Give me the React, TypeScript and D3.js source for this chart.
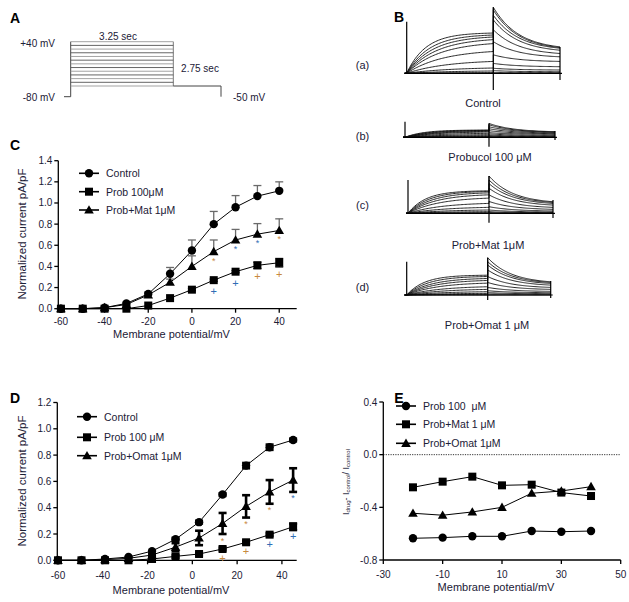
import React from 'react';
import * as d3 from 'd3';

const FONT = "'Liberation Sans', Arial, Helvetica, sans-serif";
const INK = '#1b2036';
const ORANGE = '#c8893e';
const BLUE = '#2f6db5';

// ---------- Panel A: voltage protocol ----------
const stepLevels = [-80, -70, -60, -50, -40, -30, -20, -10, 0, 10, 20, 30, 40];
const stepDur = 3.25;
const tailDur = 2.75;

// ---------- Panel B: current sweeps (amplitudes, relative units) ----------
const ctrlSteady = [0.61, 0.58, 0.55, 0.51, 0.45, 0.33, 0.18, 0.08, 0.035, 0.01, 0];
const ctrlPeak = [1.0, 0.96, 0.88, 0.81, 0.66, 0.48, 0.28, 0.15, 0.076, 0.04, 0.01];
const ctrlEnd = [0.4, 0.39, 0.38, 0.35, 0.3, 0.25, 0.18, 0.1, 0.05, 0.024, 0.01];
const probSteady = [0.11, 0.105, 0.1, 0.09, 0.08, 0.06, 0.04, 0.025, 0.012, 0.005, 0];
const probPeak = [0.21, 0.19, 0.16, 0.13, 0.1, 0.07, 0.05, 0.03, 0.015, 0.007, 0];
const probEnd = [0.085, 0.08, 0.075, 0.065, 0.055, 0.045, 0.03, 0.02, 0.01, 0.005, 0];
const matSteady = [0.34, 0.33, 0.31, 0.28, 0.23, 0.15, 0.09, 0.05, 0.025, 0.01, 0];
const matPeak = [0.565, 0.505, 0.45, 0.38, 0.28, 0.18, 0.1, 0.05, 0.025, 0.01, 0];
const matEnd = [0.175, 0.165, 0.15, 0.125, 0.09, 0.06, 0.035, 0.02, 0.01, 0.005, 0];
const omatSteady = [0.3, 0.28, 0.25, 0.22, 0.18, 0.125, 0.085, 0.05, 0.025, 0.01, 0];
const omatPeak = [0.565, 0.505, 0.455, 0.38, 0.28, 0.19, 0.115, 0.065, 0.035, 0.015, 0];
const omatEnd = [0.2, 0.19, 0.175, 0.15, 0.115, 0.085, 0.055, 0.035, 0.02, 0.01, 0];
const bTags = ['(a)', '(b)', '(c)', '(d)'];
const bNames = ['Control', 'Probucol 100 μM', 'Prob+Mat 1μM', 'Prob+Omat 1 μM'];

// ---------- Panel C ----------
const voltC = [-60, -50, -40, -30, -20, -10, 0, 10, 20, 30, 40];
const ctrlC = [0, 0, 0.01, 0.05, 0.14, 0.33, 0.55, 0.8, 0.96, 1.065, 1.115];
const ctrlCErr = [0, 0, 0, 0.01, 0.02, 0.06, 0.1, 0.12, 0.11, 0.1, 0.085];
const probC = [0, 0, 0, 0, 0.03, 0.1, 0.18, 0.27, 0.35, 0.41, 0.435];
const probCErr = [0, 0, 0, 0, 0, 0, 0.01, 0.01, 0.01, 0.03, 0.04];
const matC = [0, 0, 0.01, 0.04, 0.13, 0.25, 0.4, 0.54, 0.65, 0.705, 0.74];
const matCErr = [0, 0, 0, 0, 0.02, 0.03, 0.1, 0.11, 0.1, 0.1, 0.11];
const legendC = ['Control', 'Prob 100μM', 'Prob+Mat 1μM'];
const starIdxC = [7, 8, 9, 10];
const starColC = [ORANGE, BLUE, BLUE, ORANGE];
const plusIdxC = [7, 8, 9, 10];
const plusColC = [BLUE, BLUE, ORANGE, ORANGE];

// ---------- Panel D ----------
const voltD = [-60, -49.5, -39, -28.5, -18, -7.5, 3, 13.5, 24, 34.5, 45];
const ctrlD = [0, 0, 0.01, 0.025, 0.07, 0.16, 0.29, 0.5, 0.72, 0.86, 0.915];
const ctrlDErr = [0, 0, 0, 0, 0, 0.01, 0.01, 0.01, 0.02, 0.02, 0.01];
const probD = [0, 0, 0, 0, 0.01, 0.03, 0.048, 0.086, 0.137, 0.195, 0.255];
const probDErr = [0, 0, 0, 0, 0, 0.01, 0.01, 0.01, 0.01, 0.01, 0.025];
const omatD = [0, 0, 0.005, 0.015, 0.04, 0.1, 0.17, 0.28, 0.41, 0.52, 0.61];
const omatDErr = [0, 0, 0, 0, 0.01, 0.03, 0.055, 0.08, 0.085, 0.09, 0.09];
const legendD = ['Control', 'Prob 100 μM', 'Prob+Omat 1μM'];
const starIdxD = [7, 8, 9, 10];
const starColD = [ORANGE, ORANGE, ORANGE, BLUE];
const plusIdxD = [7, 8, 9, 10];
const plusColD = [ORANGE, ORANGE, BLUE, BLUE];

// ---------- Panel E ----------
const voltE = [-20, -10, 0, 10, 20, 30, 40];
const probE = [-0.635, -0.63, -0.62, -0.62, -0.58, -0.585, -0.58];
const matE = [-0.248, -0.205, -0.167, -0.233, -0.228, -0.288, -0.314];
const omatE = [-0.445, -0.46, -0.435, -0.4, -0.293, -0.276, -0.243];
const legendE = ['Prob 100\u00a0 μM', 'Prob+Mat 1 μM', 'Prob+Omat 1μM'];

type Shape = 'circle' | 'square' | 'triangle';

function Marker({ shape, x, y }: { shape: Shape; x: number; y: number }) {
  if (shape === 'circle') return <circle cx={x} cy={y} r={4.2} fill="#000" />;
  if (shape === 'square') return <rect x={x - 4} y={y - 4} width={8} height={8} fill="#000" />;
  return <path d={`M${x},${y - 4.8}L${x + 4.8},${y + 3.6}L${x - 4.8},${y + 3.6}Z`} fill="#000" />;
}

type Series = {
  xs: number[];
  ys: number[];
  err?: number[];
  errMode?: 'up' | 'both';
  errColor?: string;
  errWidth?: number;
  shape: Shape;
};

type Annot = { x: number; y: number; glyph: string; color: string };

function XYPanel(props: {
  xs: d3.ScaleLinear<number, number>;
  ys: d3.ScaleLinear<number, number>;
  xTicks: number[];
  yTicks: number[];
  series: Series[];
  legendX: number;
  legendYs: number[];
  legendLabels: string[];
  legendShapes: Shape[];
  xTitle: string;
  xTitleY: number;
  xLabelY: number;
  yTitle: React.ReactNode;
  annots?: Annot[];
  zeroLine?: boolean;
}) {
  const { xs, ys } = props;
  const [x0, x1] = xs.range();
  const [yb, yt] = ys.range();
  const line = d3.line<[number, number]>().x((d) => xs(d[0])).y((d) => ys(d[1]));
  return (
    <g>
      {props.zeroLine && (
        <line x1={x0} x2={x1} y1={ys(0)} y2={ys(0)} stroke="#333" strokeWidth={1} strokeDasharray="1.2,1.2" />
      )}
      <line x1={x0} x2={x0} y1={yb} y2={yt} stroke="#000" strokeWidth={1.3} />
      <line x1={x0} x2={x1} y1={yb} y2={yb} stroke="#000" strokeWidth={1.3} />
      {props.yTicks.map((t) => (
        <g key={'y' + t}>
          <line x1={x0 - 4} x2={x0} y1={ys(t)} y2={ys(t)} stroke="#000" strokeWidth={1.3} />
          <text x={x0 - 6} y={ys(t)} textAnchor="end" dominantBaseline="central" fontSize={10} fontFamily={FONT} fill={INK}>
            {t.toFixed(1)}
          </text>
        </g>
      ))}
      {props.xTicks.map((t) => (
        <g key={'x' + t}>
          <line x1={xs(t)} x2={xs(t)} y1={yb} y2={yb + 4} stroke="#000" strokeWidth={1.3} />
          <text x={xs(t)} y={props.xLabelY} textAnchor="middle" dominantBaseline="central" fontSize={10} fontFamily={FONT} fill={INK}>
            {String(t)}
          </text>
        </g>
      ))}
      <text x={(x0 + x1) / 2 - 6} y={props.xTitleY} textAnchor="middle" dominantBaseline="central" fontSize={11} fontFamily={FONT} fill={INK}>
        {props.xTitle}
      </text>
      {props.yTitle}
      {props.series.map((s, i) => (
        <path key={'l' + i} d={line(s.xs.map((x, j) => [x, s.ys[j]] as [number, number])) || ''} fill="none" stroke="#000" strokeWidth={1} />
      ))}
      {props.series.map((s, i) =>
        s.err
          ? s.xs.map((x, j) => {
              const e = s.err![j];
              if (!e) return null;
              const cx = xs(x);
              const top = ys(s.ys[j] + e);
              const bot = s.errMode === 'both' ? ys(s.ys[j] - e) : ys(s.ys[j]);
              const w = s.errWidth || 1.3;
              return (
                <g key={'e' + i + '-' + j} stroke={s.errColor || '#000'} strokeWidth={w}>
                  <line x1={cx} x2={cx} y1={top} y2={bot} />
                  <line x1={cx - 4} x2={cx + 4} y1={top} y2={top} />
                  {s.errMode === 'both' && <line x1={cx - 4} x2={cx + 4} y1={bot} y2={bot} />}
                </g>
              );
            })
          : null
      )}
      {props.series.map((s, i) => s.xs.map((x, j) => <Marker key={'m' + i + '-' + j} shape={s.shape} x={xs(x)} y={ys(s.ys[j])} />))}
      {(props.annots || []).map((a, i) => (
        <text key={'a' + i} x={a.x} y={a.y} textAnchor="middle" dominantBaseline="central" fontSize={a.glyph === '*' ? 9 : 11} fontFamily={FONT} fill={a.color}>
          {a.glyph}
        </text>
      ))}
      {props.legendLabels.map((lab, i) => (
        <g key={'lg' + i}>
          <line x1={props.legendX} x2={props.legendX + 20} y1={props.legendYs[i]} y2={props.legendYs[i]} stroke="#000" strokeWidth={1.6} />
          <Marker shape={props.legendShapes[i]} x={props.legendX + 10} y={props.legendYs[i]} />
          <text x={props.legendX + 27} y={props.legendYs[i]} dominantBaseline="central" fontSize={10.5} fontFamily={FONT} fill={INK}>
            {lab}
          </text>
        </g>
      ))}
    </g>
  );
}

type Geo = { x0: number; x1: number; x2: number; base: number; startTop: number; tailBot: number; endTop: number; endBot: number };

function Sweeps({ g, steady, peak, end }: { g: Geo; steady: number[]; peak: number[]; end: number[] }) {
  const amp = d3.scaleLinear().domain([0, 1]).range([g.base, g.base - 66]);
  const tStep = d3.scaleLinear().domain([0, 1]).range([g.x0, g.x1]);
  const tTail = d3.scaleLinear().domain([0, 1]).range([g.x1, g.x2]);
  const tt = 0.38;
  const nT = 1 - Math.exp(-1 / tt);
  const samples = d3.range(0, 1.0001, 1 / 60);
  const line = d3.line();
  const paths = steady.map((ss, k) => {
    const tau = 0.22 + k * 0.04;
    const nA = 1 - Math.exp(-1 / tau);
    const pts: [number, number][] = [[g.x0 - 2, g.base]];
    samples.forEach((t) => pts.push([tStep(t), amp((ss * (1 - Math.exp(-t / tau))) / nA)]));
    samples.forEach((t) => {
      const v = end[k] + ((peak[k] - end[k]) * (Math.exp(-t / tt) - Math.exp(-1 / tt))) / nT;
      pts.push([tTail(t), amp(v)]);
    });
    return line(pts) || '';
  });
  return (
    <g>
      {paths.map((d, i) => (
        <path key={i} d={d} fill="none" stroke="#111" strokeWidth={0.9} />
      ))}
      <line x1={g.x0 - 2} x2={g.x2 + 2} y1={g.base} y2={g.base} stroke="#000" strokeWidth={1.2} />
      <line x1={g.x0} x2={g.x0} y1={g.base} y2={g.startTop} stroke="#000" strokeWidth={1.2} />
      <line x1={g.x1} x2={g.x1} y1={amp(peak[0])} y2={g.tailBot} stroke="#000" strokeWidth={1.2} />
      <line x1={g.x2} x2={g.x2} y1={g.endTop} y2={g.endBot} stroke="#000" strokeWidth={1.2} />
    </g>
  );
}

function PanelA() {
  const xA = d3.scaleLinear().domain([0, stepDur]).range([70.7, 173.3]);
  const xT = d3.scaleLinear().domain([0, tailDur]).range([173.3, 221]);
  const yA = d3.scaleLinear().domain([-80, 40]).range([86, 41.7]);
  const holdY = 96.7;
  return (
    <g>
      <line x1={64} x2={xA(0)} y1={holdY} y2={holdY} stroke="#444" strokeWidth={1} />
      <line x1={xA(0)} x2={xA(0)} y1={holdY} y2={yA(40)} stroke="#444" strokeWidth={1} />
      <line x1={xA(stepDur)} x2={xA(stepDur)} y1={yA(-80)} y2={yA(40)} stroke="#777" strokeWidth={1} />
      {stepLevels.map((v, i) => (
        <line key={v} x1={xA(0)} x2={xA(stepDur)} y1={yA(v)} y2={yA(v)} stroke={i % 2 ? '#555' : '#999'} strokeWidth={0.9} />
      ))}
      <line x1={xT(0)} x2={xT(tailDur)} y1={yA(-80)} y2={yA(-80)} stroke="#444" strokeWidth={1} />
      <line x1={xT(tailDur)} x2={xT(tailDur)} y1={yA(-80)} y2={holdY} stroke="#444" strokeWidth={1} />
      <text x={55} y={43} textAnchor="end" dominantBaseline="central" fontSize={10} fontFamily={FONT} fill={INK}>+40 mV</text>
      <text x={55} y={97} textAnchor="end" dominantBaseline="central" fontSize={10} fontFamily={FONT} fill={INK}>-80 mV</text>
      <text x={118} y={36} textAnchor="middle" dominantBaseline="central" fontSize={10} fontFamily={FONT} fill={INK}>3.25 sec</text>
      <text x={200} y={68.5} textAnchor="middle" dominantBaseline="central" fontSize={10} fontFamily={FONT} fill={INK}>2.75 sec</text>
      <text x={233} y={97} dominantBaseline="central" fontSize={10} fontFamily={FONT} fill={INK}>-50 mV</text>
    </g>
  );
}

function PanelB() {
  const geos: Geo[] = [
    { x0: 406.7, x1: 493.3, x2: 560, base: 73.3, startTop: 21.7, tailBot: 90, endTop: 47, endBot: 80 },
    { x0: 405, x1: 489, x2: 555, base: 137.3, startTop: 121.7, tailBot: 146.7, endTop: 131, endBot: 140 },
    { x0: 408, x1: 489, x2: 553, base: 213.3, startTop: 180, tailBot: 222.7, endTop: 200, endBot: 218 },
    { x0: 406.7, x1: 487.7, x2: 550.7, base: 295, startTop: 261.7, tailBot: 300, endTop: 281, endBot: 298 },
  ];
  const sets = [
    [ctrlSteady, ctrlPeak, ctrlEnd],
    [probSteady, probPeak, probEnd],
    [matSteady, matPeak, matEnd],
    [omatSteady, omatPeak, omatEnd],
  ];
  const tagY = [65, 136, 205, 287];
  const nameY = [103, 157, 245, 325];
  const nameX = [483, 490, 488, 487];
  return (
    <g>
      {geos.map((g, i) => (
        <g key={i}>
          <Sweeps g={g} steady={sets[i][0]} peak={sets[i][1]} end={sets[i][2]} />
          <text x={362.5} y={tagY[i]} textAnchor="middle" dominantBaseline="central" fontSize={11} fontFamily={FONT} fill={INK}>{bTags[i]}</text>
          <text x={nameX[i]} y={nameY[i]} textAnchor="middle" dominantBaseline="central" fontSize={11} fontFamily={FONT} fill={INK}>{bNames[i]}</text>
        </g>
      ))}
    </g>
  );
}

export default function App() {
  const xC = d3.scaleLinear().domain([-61.2, 48]).range([58.3, 296.7]);
  const yC = d3.scaleLinear().domain([0, 1.4]).range([308.7, 160.7]);
  const xD = d3.scaleLinear().domain([-60.3, 46.6]).range([57.3, 296.7]);
  const yD = d3.scaleLinear().domain([0, 1.2]).range([560.3, 402.5]);
  const xE = d3.scaleLinear().domain([-30, 50]).range([383.3, 620.7]);
  const yE = d3.scaleLinear().domain([-0.8, 0.4]).range([560, 402]);

  const annC: Annot[] = [
    ...starIdxC.map((j, k) => ({ x: xC(voltC[j]), y: yC(matC[j]) + 9, glyph: '*', color: starColC[k] })),
    ...plusIdxC.map((j, k) => ({ x: xC(voltC[j]), y: yC(probC[j]) + 11, glyph: '+', color: plusColC[k] })),
  ];
  const annD: Annot[] = [
    ...starIdxD.map((j, k) => ({ x: xD(voltD[j]), y: yD(omatD[j]) + 18, glyph: '*', color: starColD[k] })),
    ...plusIdxD.map((j, k) => ({ x: xD(voltD[j]), y: yD(probD[j]) + 9, glyph: '+', color: plusColD[k] })),
  ];

  const titleStyle = { fontSize: 11.5, fontFamily: FONT, fill: INK } as const;

  return (
    <svg width={629} height={602} style={{ position: 'absolute', left: 0, top: 0, background: '#fff' }}>
      <rect width={629} height={602} fill="#fff" />
      {['A', 'B', 'C', 'D', 'E'].map((l, i) => (
        <text key={l} x={[15, 399, 15, 15, 399][i]} y={[18, 17, 145, 398, 398][i]} textAnchor="middle" dominantBaseline="central" fontSize={14} fontWeight="bold" fontFamily={FONT} fill="#000">
          {l}
        </text>
      ))}
      <PanelA />
      <PanelB />
      <XYPanel
        xs={xC}
        ys={yC}
        xTicks={[-60, -40, -20, 0, 20, 40]}
        yTicks={[0, 0.2, 0.4, 0.6, 0.8, 1.0, 1.2, 1.4]}
        series={[
          { xs: voltC, ys: ctrlC, err: ctrlCErr, errMode: 'up', errColor: '#6a6a6a', shape: 'circle' },
          { xs: voltC, ys: matC, err: matCErr, errMode: 'up', errColor: '#6a6a6a', shape: 'triangle' },
          { xs: voltC, ys: probC, err: probCErr, errMode: 'both', errColor: '#000', shape: 'square' },
        ]}
        legendX={79}
        legendYs={[173.3, 191.7, 210]}
        legendLabels={legendC}
        legendShapes={['circle', 'square', 'triangle']}
        xTitle="Membrane potential/mV"
        xTitleY={334}
        xLabelY={321.5}
        yTitle={<text transform="translate(22,234) rotate(-90)" textAnchor="middle" dominantBaseline="central" {...titleStyle}>Normalized current pA/pF</text>}
        annots={annC}
      />
      <XYPanel
        xs={xD}
        ys={yD}
        xTicks={[-60, -40, -20, 0, 20, 40]}
        yTicks={[0, 0.2, 0.4, 0.6, 0.8, 1.0, 1.2]}
        series={[
          { xs: voltD, ys: ctrlD, err: ctrlDErr, errMode: 'both', errWidth: 2.6, shape: 'circle' },
          { xs: voltD, ys: omatD, err: omatDErr, errMode: 'both', errWidth: 2.6, shape: 'triangle' },
          { xs: voltD, ys: probD, err: probDErr, errMode: 'both', errWidth: 2.6, shape: 'square' },
        ]}
        legendX={77}
        legendYs={[416.7, 437.3, 455.7]}
        legendLabels={legendD}
        legendShapes={['circle', 'square', 'triangle']}
        xTitle="Membrane potential/mV"
        xTitleY={590}
        xLabelY={575.5}
        yTitle={<text transform="translate(22,481) rotate(-90)" textAnchor="middle" dominantBaseline="central" {...titleStyle}>Normalized current pA/pF</text>}
        annots={annD}
      />
      <XYPanel
        xs={xE}
        ys={yE}
        xTicks={[-30, -10, 10, 30, 50]}
        yTicks={[-0.8, -0.4, 0, 0.4]}
        series={[
          { xs: voltE, ys: probE, shape: 'circle' },
          { xs: voltE, ys: matE, shape: 'square' },
          { xs: voltE, ys: omatE, shape: 'triangle' },
        ]}
        legendX={396}
        legendYs={[406, 424.3, 443.3]}
        legendLabels={legendE}
        legendShapes={['circle', 'square', 'triangle']}
        xTitle="Membrane potential/mV"
        xTitleY={587}
        xLabelY={574}
        zeroLine
        yTitle={
          <text transform="translate(346,482) rotate(-90)" textAnchor="middle" dominantBaseline="central" fontSize={9} fontFamily={FONT} fill={INK}>
            I<tspan fontSize={6} dy={2}>drug</tspan>
            <tspan dy={-2}>- I</tspan>
            <tspan fontSize={6} dy={2}>control</tspan>
            <tspan dy={-2}>/ I</tspan>
            <tspan fontSize={6} dy={2}>control</tspan>
          </text>
        }
      />
    </svg>
  );
}
